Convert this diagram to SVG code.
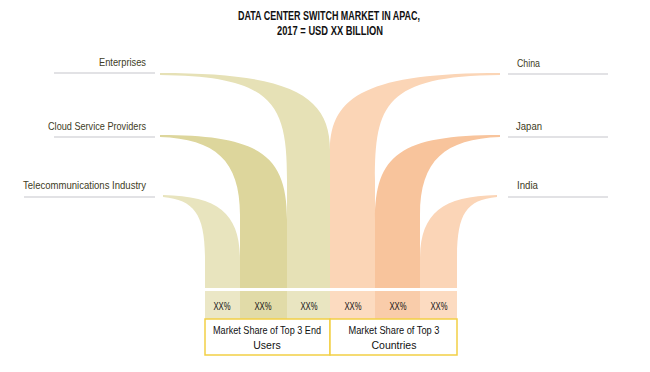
<svg xmlns="http://www.w3.org/2000/svg" width="650" height="372" viewBox="0 0 650 372">
<style>
.title{font-family:"Liberation Sans",Arial,sans-serif;font-weight:bold;font-size:13px;fill:#111;text-anchor:middle}
.lbl{font-family:"Liberation Sans",Arial,sans-serif;font-size:11px;fill:#403c24}
.ln{stroke:#d9d9dc;stroke-width:1.6;fill:none}
.pct{font-family:"Liberation Sans",Arial,sans-serif;font-size:10.5px;fill:#111;text-anchor:middle}
.box{fill:#fff;stroke:#f2cf45;stroke-width:1.5}
.bt{font-family:"Liberation Sans",Arial,sans-serif;font-size:10.5px;fill:#111;text-anchor:middle}
.g1{fill:#e6e1b6}.g2{fill:#ddd69c}.g3{fill:#e8e4be}
.o1{fill:#fbd5b6}.o2{fill:#f8c49c}.o3{fill:#fbd5b7}
.c1{fill:#e9e5c1}.c2{fill:#e1dba8}.c3{fill:#ebe7c6}
.d1{fill:#fcdbc0}.d2{fill:#f9ccaa}.d3{fill:#fcdbc1}
</style>
<g id="title">
<text class="title" x="329" y="20" textLength="182" lengthAdjust="spacingAndGlyphs">DATA CENTER SWITCH MARKET IN APAC,</text>
<text class="title" x="330" y="35" textLength="106" lengthAdjust="spacingAndGlyphs">2017 = USD XX BILLION</text>
</g>
<g id="connectors">
<path class="g1" d="M160,73 C290,73 330,95 330,150 L330,288 L287,288 L287,180 C287,105 275,76 160,75 Z"/>
<path class="g2" d="M160,135 C260,135 287,155 287,220 L287,288 L240,288 L240,215 C240,160 215,139 160,137 Z"/>
<path class="g3" d="M163,195 C220,196 240,215 240,260 L240,288 L205,288 L205,260 C205,215 195,200 163,197 Z"/>
<path class="o1" d="M500,73 C370,73 330,95 330,150 L330,288 L375,288 L375,180 C375,105 385,76 500,75 Z"/>
<path class="o2" d="M500,135 C400,135 375,155 375,220 L375,288 L420,288 L420,215 C420,160 445,139 500,137 Z"/>
<path class="o3" d="M497,195 C440,196 420,215 420,260 L420,288 L457,288 L457,260 C457,215 465,200 497,197 Z"/>
</g>
<g id="enterprises">
<text class="lbl" x="146" y="66" text-anchor="end" textLength="47" lengthAdjust="spacingAndGlyphs">Enterprises</text>
<line class="ln" x1="54" y1="73" x2="155" y2="73"/>
<rect class="c1" x="287" y="291" width="43" height="28"/>
<text class="pct" x="309" y="310" textLength="17" lengthAdjust="spacingAndGlyphs">XX%</text>
</g>
<g id="cloud">
<text class="lbl" x="146" y="130" text-anchor="end" textLength="98" lengthAdjust="spacingAndGlyphs">Cloud Service Providers</text>
<line class="ln" x1="54" y1="137" x2="155" y2="137"/>
<rect class="c2" x="240" y="291" width="47" height="28"/>
<text class="pct" x="263" y="310" textLength="17" lengthAdjust="spacingAndGlyphs">XX%</text>
</g>
<g id="telecom">
<text class="lbl" x="146" y="189" text-anchor="end" textLength="123" lengthAdjust="spacingAndGlyphs">Telecommunications Industry</text>
<line class="ln" x1="24" y1="197" x2="155" y2="197"/>
<rect class="c3" x="205" y="291" width="35" height="28"/>
<text class="pct" x="222" y="310" textLength="17" lengthAdjust="spacingAndGlyphs">XX%</text>
</g>
<g id="china">
<text class="lbl" x="517" y="67" textLength="23" lengthAdjust="spacingAndGlyphs">China</text>
<line class="ln" x1="508" y1="74" x2="608" y2="74"/>
<rect class="d1" x="330" y="291" width="45" height="28"/>
<text class="pct" x="353" y="310" textLength="17" lengthAdjust="spacingAndGlyphs">XX%</text>
</g>
<g id="japan">
<text class="lbl" x="516" y="130" textLength="26" lengthAdjust="spacingAndGlyphs">Japan</text>
<line class="ln" x1="508" y1="137" x2="608" y2="137"/>
<rect class="d2" x="375" y="291" width="45" height="28"/>
<text class="pct" x="398" y="310" textLength="17" lengthAdjust="spacingAndGlyphs">XX%</text>
</g>
<g id="india">
<text class="lbl" x="517" y="189" textLength="21" lengthAdjust="spacingAndGlyphs">India</text>
<line class="ln" x1="508" y1="197" x2="608" y2="197"/>
<rect class="d3" x="420" y="291" width="37" height="28"/>
<text class="pct" x="439" y="310" textLength="17" lengthAdjust="spacingAndGlyphs">XX%</text>
</g>
<g id="end-users-box">
<rect class="box" x="205" y="319" width="125" height="36"/>
<text class="bt" x="267" y="334" textLength="108" lengthAdjust="spacingAndGlyphs">Market Share of Top 3 End</text>
<text class="bt" x="267" y="349">Users</text>
</g>
<g id="countries-box">
<rect class="box" x="330" y="319" width="127" height="36"/>
<text class="bt" x="394" y="334" textLength="91" lengthAdjust="spacingAndGlyphs">Market Share of Top 3</text>
<text class="bt" x="394" y="349">Countries</text>
</g>
</svg>
